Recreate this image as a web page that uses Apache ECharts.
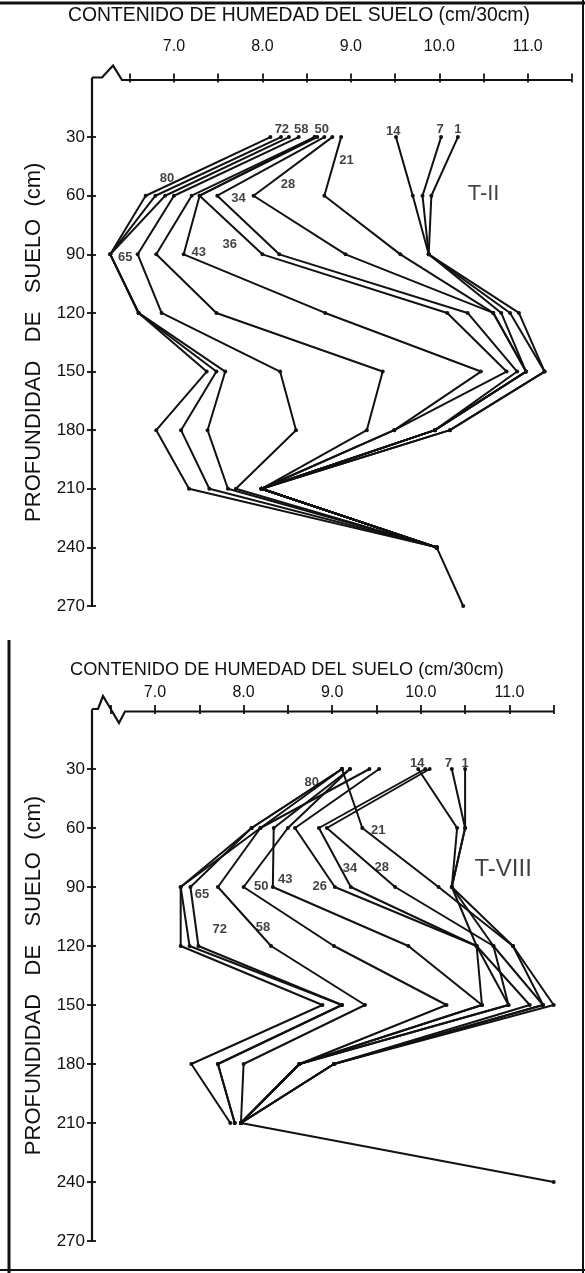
<!DOCTYPE html>
<html><head><meta charset="utf-8">
<script src="https://cdn.jsdelivr.net/npm/echarts@6/dist/echarts.min.js"></script>
<style>html,body{margin:0;padding:0;background:#fff}#c{width:585px;height:1273px}</style>
</head><body><div id="c"></div>
<script>
// depths (cm)
const depths = [30, 60, 90, 120, 150, 180, 210, 240, 270];
const xTicks = [6.5, 7, 7.5, 8, 8.5, 9, 9.5, 10, 10.5, 11, 11.5];
const xLabels = [7, 8, 9, 10, 11];
const yTicks = [30, 60, 90, 120, 150, 180, 210, 240, 270];
const days = ['1', '7', '14', '21', '28', '34', '36', '43', '50', '58', '65', '72', '80'];
const daysB = ['1', '7', '14', '21', '28', '34', '26', '43', '50', '58', '65', '72', '80'];

// T-II : soil moisture (cm/30cm) by depth
const t1  = [10.21, 9.91, 9.88, 10.90, 11.19, 10.12, 7.99, 9.97, 10.27];
const t7  = [10.02, 9.81, 9.88, 10.80, 11.19, 10.12, 7.99, 9.97];
const t14 = [9.51, 9.70, 9.88, 10.70, 10.98, 9.95, 7.99, 9.97];
const t21 = [8.89, 8.70, 9.56, 10.61, 10.98, 9.95, 7.99, 9.97];
const t28 = [8.79, 7.90, 8.94, 10.61, 10.98, 9.95, 7.99, 9.97];
const t34 = [8.70, 7.49, 8.19, 10.32, 10.88, 9.95, 7.99, 9.97];
const t36 = [8.62, 7.29, 8.00, 10.09, 10.76, 9.49, 7.99, 9.97];
const t43 = [8.59, 7.29, 7.11, 8.71, 10.47, 9.49, 7.99, 9.97];
const t50 = [8.59, 7.20, 6.80, 7.48, 9.36, 9.18, 7.99, 9.97];
const t58 = [8.41, 7.00, 6.59, 6.86, 8.20, 8.38, 7.70, 9.97];
const t65 = [8.30, 6.90, 6.28, 6.60, 7.58, 7.38, 7.61, 9.97];
const t72 = [8.21, 6.79, 6.28, 6.60, 7.48, 7.08, 7.40, 9.97];
const t80 = [8.09, 6.68, 6.28, 6.60, 7.37, 6.80, 7.17, 9.97];

// T-VIII
const b1  = [10.50, 10.50, 10.35, 11.04, 11.50, 9.02, 7.97, 11.50];
const b7  = [10.35, 10.50, 10.35, 10.82, 11.38, 9.02, 7.97];
const b14 = [9.97, 10.41, 10.35, 10.63, 11.23, 9.02, 7.97];
const b21 = [9.11, 9.34, 10.20, 11.04, 11.38, 9.02, 7.97];
const b28 = [10.10, 8.94, 9.71, 10.82, 10.99, 8.63, 7.97];
const b34 = [10.05, 8.85, 9.21, 10.63, 10.99, 8.63, 7.97];
const b26 = [9.53, 8.58, 9.03, 10.63, 10.69, 8.63, 7.97];
const b43 = [9.20, 8.34, 8.33, 9.86, 10.69, 8.63, 7.97];
const b50 = [9.20, 8.50, 8.00, 9.02, 10.29, 8.63, 7.97];
const b58 = [9.42, 8.19, 7.71, 8.31, 9.37, 8.00, 7.97];
const b65 = [9.11, 8.09, 7.40, 7.49, 9.11, 7.71, 7.90];
const b72 = [9.11, 8.19, 7.29, 7.39, 9.11, 7.71, 7.90];
const b80 = [9.11, 8.09, 7.29, 7.29, 8.89, 7.41, 7.85];

// curve labels: [text, moisture, depth]
const labelsTop = [['72', 8.22, 26], ['58', 8.44, 26], ['50', 8.67, 26], ['14', 9.48, 27], ['7', 10.01, 26], ['1', 10.21, 26],
  ['21', 8.95, 42], ['28', 8.29, 54], ['80', 6.92, 51], ['34', 7.73, 61.5], ['36', 7.63, 85], ['43', 7.28, 89], ['65', 6.45, 91.6]];
const labelsBot = [['14', 9.96, 27], ['7', 10.31, 27], ['1', 10.50, 27], ['80', 8.77, 37], ['21', 9.52, 61], ['34', 9.20, 80.4],
  ['28', 9.56, 80], ['26', 8.86, 89.7], ['50', 8.20, 89.7], ['43', 8.47, 86], ['65', 7.53, 94], ['72', 7.73, 111.7], ['58', 8.22, 110.3]];
const panelTop = ['T-II', 10.50, 59];
const panelBot = ['T-VIII', 10.93, 81];
const xTitle = 'CONTENIDO DE HUMEDAD DEL SUELO (cm/30cm)';
const yTitle = 'PROFUNDIDAD   DE   SUELO  (cm)';

const topSeries = [t1, t7, t14, t21, t28, t34, t36, t43, t50, t58, t65, t72, t80];
const botSeries = [b1, b7, b14, b21, b28, b34, b26, b43, b50, b58, b65, b72, b80];

const FONT = 'Liberation Sans';
const BLACK = '#111';
const grids = [
  {left: 92, top: 78.5, width: 480, height: 527.5},
  {left: 92, top: 710, width: 461.7, height: 531}
];
const xMin = [6.0734, 6.289];

function xAxes(g) {
  return [{
    gridIndex: g, type: 'value', position: 'top', min: xMin[g], max: 11.5,
    axisLine: {show: false}, splitLine: {show: false},
    axisTick: {show: true, customValues: xTicks, length: 5, lineStyle: {color: BLACK, width: 1.8}},
    axisLabel: {show: true, customValues: xLabels, margin: g === 0 ? 24 : 9, formatter: v => v.toFixed(1),
      color: BLACK, fontSize: 16, fontFamily: FONT}
  }, {
    gridIndex: g, type: 'value', position: 'top', min: xMin[g], max: 11.5,
    axisLine: {show: false}, splitLine: {show: false},
    axisTick: {show: true, inside: true, customValues: xTicks, length: 4, lineStyle: {color: BLACK, width: 1.8}},
    axisLabel: {show: false}
  }];
}
function yAxes(g) {
  return [{
    gridIndex: g, type: 'value', position: 'left', inverse: true, min: 0, max: 270, interval: 30,
    axisLine: {show: true, lineStyle: {color: BLACK, width: 2.2}}, splitLine: {show: false},
    axisTick: {show: true, customValues: yTicks, length: 5, lineStyle: {color: BLACK, width: 1.8}},
    axisLabel: {show: true, customValues: yTicks, margin: 7, color: BLACK, fontSize: 17, fontFamily: FONT},
    name: yTitle, nameLocation: 'middle', nameRotate: 90, nameGap: 47,
    nameTextStyle: {color: BLACK, fontSize: 22, fontFamily: FONT}
  }, {
    gridIndex: g, type: 'value', position: 'left', inverse: true, min: 0, max: 270,
    axisLine: {show: false}, splitLine: {show: false},
    axisTick: {show: true, inside: true, customValues: yTicks, length: 4, lineStyle: {color: BLACK, width: 1.8}},
    axisLabel: {show: false}
  }];
}

const series = [];
function addLines(list, names, g) {
  list.forEach((vals, i) => {
    series.push({
      type: 'line', name: names[i], xAxisIndex: g * 2, yAxisIndex: g * 2, clip: false,
      data: vals.map((v, k) => [v, depths[k]]),
      symbol: 'circle', symbolSize: 4, showSymbol: true,
      lineStyle: {color: BLACK, width: 2}, itemStyle: {color: BLACK}, animation: false, z: 3
    });
  });
}
addLines(topSeries, days, 0);
addLines(botSeries, daysB, 1);

function addLabels(list, panel, g) {
  series.push({
    type: 'scatter', xAxisIndex: g * 2, yAxisIndex: g * 2, symbolSize: 0, clip: false, silent: true, animation: false,
    data: list.map(l => ({name: l[0], value: [l[1], l[2]]})),
    label: {show: true, position: 'inside', formatter: p => p.name, color: BLACK, fontSize: 13, fontWeight: 'bold', fontFamily: FONT}
  });
  series.push({
    type: 'scatter', xAxisIndex: g * 2, yAxisIndex: g * 2, symbolSize: 0, clip: false, silent: true, animation: false,
    data: [{name: panel[0], value: [panel[1], panel[2]]}],
    label: {show: true, position: 'inside', formatter: p => p.name, color: BLACK, fontSize: g === 0 ? 22 : 24, fontFamily: FONT}
  });
}
addLabels(labelsTop, panelTop, 0);
addLabels(labelsBot, panelBot, 1);

const chart = echarts.init(document.getElementById('c'), null, {renderer: 'canvas'});
chart.setOption({
  animation: false,
  backgroundColor: '#fff',
  grid: grids,
  xAxis: [...xAxes(0), ...xAxes(1)],
  yAxis: [...yAxes(0), ...yAxes(1)],
  series: series
});

// font size so that a title spans the wanted width
const ctx = document.createElement('canvas').getContext('2d');
ctx.font = '100px "Liberation Sans"';
const w100 = ctx.measureText(xTitle).width;
const fsTop = 100 * 462 / w100;
const fsBot = 100 * 434 / w100;

// axis lines with the scale-break zigzag, placed from the axis scale
function breakLine(g, pts) {
  const o = chart.convertToPixel({xAxisIndex: g * 2, yAxisIndex: g * 2}, [xMin[g], 0]);
  const e = chart.convertToPixel({xAxisIndex: g * 2, yAxisIndex: g * 2}, [11.5, 0]);
  const p = pts.map(q => [o[0] + q[0], o[1] + q[1]]);
  p.push([e[0], o[1] + pts[pts.length - 1][1]]);
  return {type: 'polyline', shape: {points: p}, style: {stroke: BLACK, lineWidth: 2.2, fill: null}, z: 10};
}
chart.setOption({
  graphic: [
    breakLine(0, [[0, -1], [10, -1], [21, -13], [30, 1.5], [31, 1.5]]),
    breakLine(1, [[0, -1], [6, -1], [11, -14], [27, 13], [33, 1.5], [34, 1.5]]),
    {type: 'text', x: 299, y: 16, style: {text: xTitle, fill: BLACK, font: fsTop.toFixed(2) + 'px "Liberation Sans"', textAlign: 'center', textVerticalAlign: 'middle'}},
    {type: 'text', x: 287, y: 670, style: {text: xTitle, fill: BLACK, font: fsBot.toFixed(2) + 'px "Liberation Sans"', textAlign: 'center', textVerticalAlign: 'middle'}},
    {type: 'line', shape: {x1: 0, y1: 3, x2: 585, y2: 3}, style: {stroke: BLACK, lineWidth: 3}},
    {type: 'line', shape: {x1: 583, y1: 0, x2: 583, y2: 1273}, style: {stroke: BLACK, lineWidth: 2}},
    {type: 'line', shape: {x1: 9, y1: 640, x2: 9, y2: 1273}, style: {stroke: BLACK, lineWidth: 3}},
    {type: 'line', shape: {x1: 0, y1: 1270, x2: 585, y2: 1270}, style: {stroke: BLACK, lineWidth: 2}}
  ]
});
</script></body></html>
